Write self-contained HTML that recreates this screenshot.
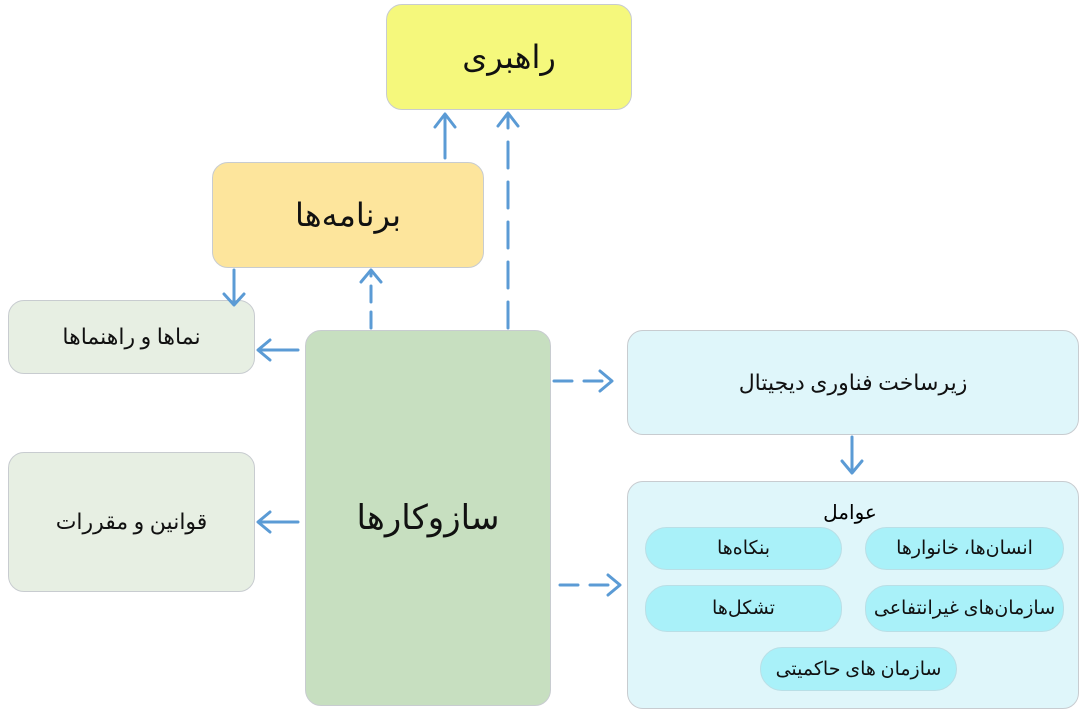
<!DOCTYPE html>
<html><head><meta charset="utf-8"><style>
body{margin:0;width:1090px;height:724px;background:#fff;position:relative;overflow:hidden;font-family:"Liberation Serif","DejaVu Sans",serif;}
.b{position:absolute;box-sizing:border-box;border:1px solid #c8ccd0;border-radius:16px;display:flex;align-items:center;justify-content:center;direction:rtl;color:#111;}
.p{position:absolute;box-sizing:border-box;border:1px solid #b9dfe6;border-radius:22px;background:#a9f1f9;display:flex;align-items:center;justify-content:center;direction:rtl;font-size:19px;color:#111;}
svg{position:absolute;left:0;top:0;}
</style></head><body>
<div class="b" style="left:386px;top:4px;width:246px;height:106px;background:#f5f87c;font-size:32px;">راهبری</div>
<div class="b" style="left:212px;top:162px;width:272px;height:106px;background:#fde59c;font-size:32px;">برنامه‌ها</div>
<div class="b" style="left:8px;top:300px;width:247px;height:74px;background:#e7efe3;font-size:22px;">نماها و راهنماها</div>
<div class="b" style="left:8px;top:452px;width:247px;height:140px;background:#e7efe3;font-size:22px;">قوانین و مقررات</div>
<div class="b" style="left:305px;top:330px;width:246px;height:376px;background:#c7dfc0;font-size:34px;">سازوکارها</div>
<div class="b" style="left:627px;top:330px;width:452px;height:105px;background:#dff6fa;font-size:22px;">زیرساخت فناوری دیجیتال</div>
<div class="b" style="left:627px;top:481px;width:452px;height:228px;background:#dff6fa;"></div>
<div style="position:absolute;left:800px;top:500px;width:100px;text-align:center;direction:rtl;font-size:20px;">عوامل</div>
<div class="p" style="left:645px;top:527px;width:197px;height:43px;">بنکاه‌ها</div>
<div class="p" style="left:865px;top:527px;width:199px;height:43px;">انسان‌ها، خانوارها</div>
<div class="p" style="left:645px;top:585px;width:197px;height:47px;">تشکل‌ها</div>
<div class="p" style="left:865px;top:585px;width:199px;height:47px;">سازمان‌های غیرانتفاعی</div>
<div class="p" style="left:760px;top:647px;width:197px;height:44px;">سازمان های حاکمیتی</div>
<svg width="1090" height="724" fill="none" stroke="#5b9bd5" stroke-width="3" stroke-linecap="round" stroke-linejoin="round">
<line x1="371" y1="328" x2="371" y2="272" stroke-dasharray="16,10"/>
<polyline points="361,282 371,270 381,282"/>
<line x1="508" y1="328" x2="508" y2="114" stroke-dasharray="26,14"/>
<polyline points="498,126 508,113 518,126"/>
<line x1="445" y1="158" x2="445" y2="115"/>
<polyline points="435,127 445,114 455,127"/>
<line x1="234" y1="270" x2="234" y2="304"/>
<polyline points="224,294 234,305 244,294"/>
<line x1="298" y1="350" x2="259" y2="350"/>
<polyline points="270,340 258,350 270,360"/>
<line x1="298" y1="522" x2="259" y2="522"/>
<polyline points="270,512 258,522 270,532"/>
<line x1="554" y1="381" x2="612" y2="381" stroke-dasharray="18,12"/>
<polyline points="600,371 612,381 600,391"/>
<line x1="560" y1="585" x2="620" y2="585" stroke-dasharray="18,12"/>
<polyline points="608,575 620,585 608,595"/>
<line x1="852" y1="437" x2="852" y2="472"/>
<polyline points="842,461 852,473 862,461"/>
</svg>
</body></html>
